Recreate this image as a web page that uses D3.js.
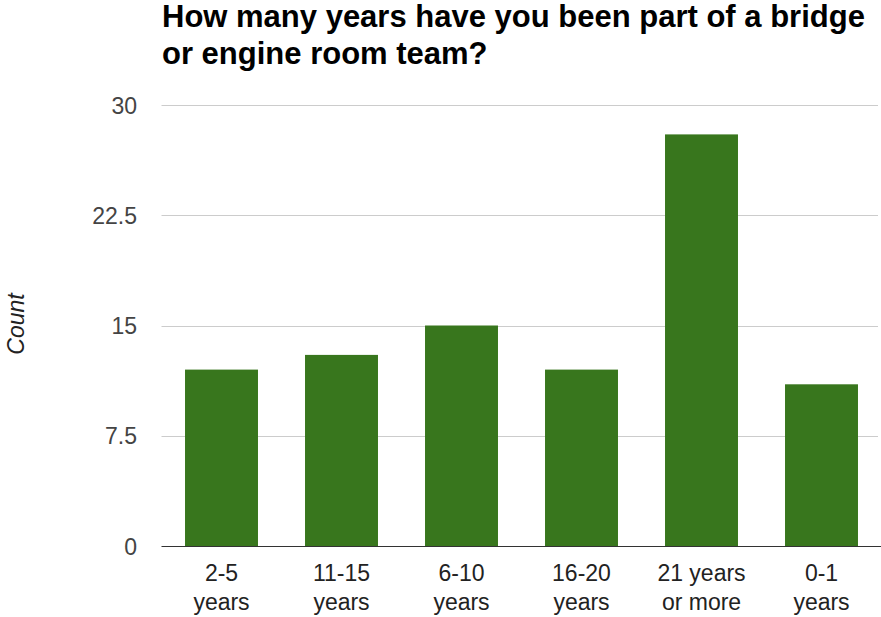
<!DOCTYPE html>
<html>
<head>
<meta charset="utf-8">
<script src="https://cdn.jsdelivr.net/npm/d3@7"></script>
<style>
  html, body { margin: 0; padding: 0; background: #fff; }
  svg { display: block; }
  text { font-family: "Liberation Sans", Arial, sans-serif; }
</style>
</head>
<body>
<svg id="chart" width="881" height="617"></svg>
<script>
// Survey responses: years spent on a bridge or engine room team
const titleLines = ["How many years have you been part of a bridge", "or engine room team?"];
const categories = [["2-5", "years"], ["11-15", "years"], ["6-10", "years"], ["16-20", "years"], ["21 years", "or more"], ["0-1", "years"]];
const counts = [12, 13, 15, 12, 28, 11];
const yTicks = [0, 7.5, 15, 22.5, 30];
const yLabel = "Count";

const svg = d3.select("#chart");
const plotLeft = 161.5, plotRight = 881.5, plotTop = 105, plotBottom = 546;

const x = d3.scaleBand()
  .domain(categories.map((d, i) => i))
  .range([plotLeft, plotRight])
  .paddingInner(0.392)
  .paddingOuter(0.196);

const y = d3.scaleLinear().domain([0, 30]).range([plotBottom, plotTop]);

// Title
const title = svg.append("text")
  .attr("font-size", 31)
  .attr("font-weight", "bold")
  .attr("fill", "#000");
titleLines.forEach((t, i) => {
  title.append("tspan").attr("x", 162).attr("y", 27 + i * 37).text(t);
});

// Y tick labels
const yAxis = d3.axisLeft(y).tickValues(yTicks).tickSize(0).tickPadding(0)
  .tickFormat(d => String(d));
const gy = svg.append("g").attr("transform", `translate(137,0)`).call(yAxis);
gy.select(".domain").remove();
gy.selectAll("text")
  .attr("font-size", 23)
  .attr("fill", "#444")
  .attr("dy", "0.35em")
  .attr("font-family", "Liberation Sans, Arial, sans-serif");

// Horizontal gridlines
svg.append("g").selectAll("line")
  .data(yTicks.filter(d => d > 0))
  .join("line")
  .attr("x1", plotLeft).attr("x2", 878)
  .attr("y1", d => Math.round(y(d)) + 0.5).attr("y2", d => Math.round(y(d)) + 0.5)
  .attr("stroke", "#cccccc").attr("stroke-width", 1);

// Bars
svg.append("g").selectAll("rect")
  .data(counts)
  .join("rect")
  .attr("x", (d, i) => x(i))
  .attr("width", x.bandwidth())
  .attr("y", d => y(d))
  .attr("height", d => y(0) - y(d))
  .attr("fill", "#38761d");

// Baseline
svg.append("line")
  .attr("x1", plotLeft).attr("x2", 881)
  .attr("y1", plotBottom + 0.5).attr("y2", plotBottom + 0.5)
  .attr("stroke", "#333").attr("stroke-width", 1.2);

// Category labels (two lines each)
const gx = svg.append("g").selectAll("text")
  .data(categories)
  .join("text")
  .attr("text-anchor", "middle")
  .attr("font-size", 23)
  .attr("fill", "#222");
gx.each(function(d, i) {
  const t = d3.select(this);
  d.forEach((line, j) => {
    t.append("tspan")
      .attr("x", x(i) + x.bandwidth() / 2)
      .attr("y", 581 + j * 29)
      .text(line);
  });
});

// Y axis title
svg.append("text")
  .attr("transform", "translate(24,324) rotate(-90)")
  .attr("text-anchor", "middle")
  .attr("font-size", 23)
  .attr("font-style", "italic")
  .attr("fill", "#222")
  .text(yLabel);
</script>
</body>
</html>
